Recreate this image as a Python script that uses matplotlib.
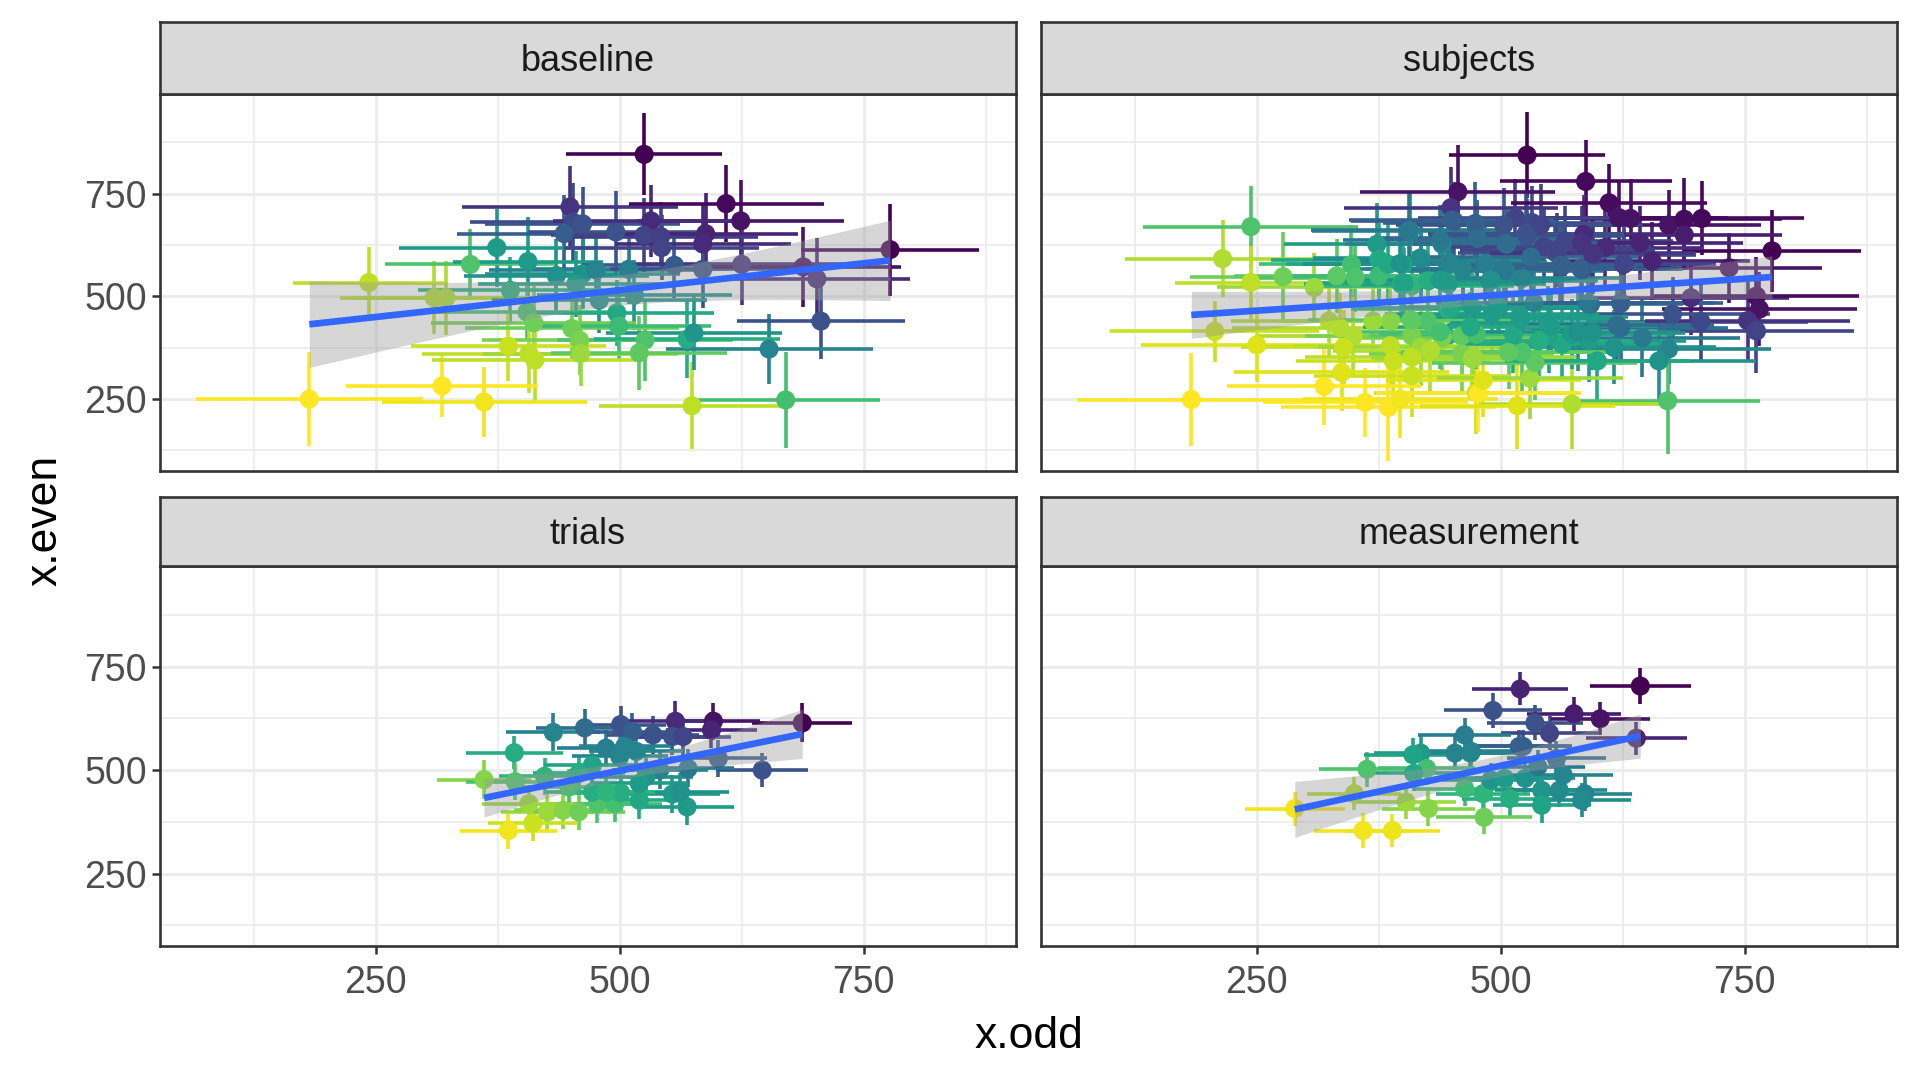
import numpy as np
import matplotlib
matplotlib.use("Agg")
import matplotlib.pyplot as plt

plt.rcParams['font.family'] = ['Liberation Sans', 'DejaVu Sans']

# ---- data (x.odd, x.even, half-widths, colour level) ----
# colour level: 0 = dark purple, 1 = yellow (viridis)
base_x = [182, 243, 310, 322, 318, 361, 347, 374, 406, 435, 449, 452, 462, 443, 388,
          405, 412, 386, 407, 413, 451, 459, 460, 462, 455,
          525, 609, 624, 532, 496, 525, 542, 588, 585, 543, 556, 476, 509, 625, 585,
          777, 688, 702, 706, 653, 670, 574, 497, 499, 526, 520, 569, 576, 479, 515]
base_y = [250, 534, 497, 497, 282, 243, 578, 619, 585, 551, 718, 681, 677, 653, 515,
          462, 436, 379, 361, 345, 422, 393, 361, 555, 531,
          846, 726, 684, 684, 657, 649, 646, 653, 628, 619, 576, 564, 566, 578, 566,
          614, 572, 543, 440, 372, 248, 234, 460, 428, 394, 363, 396, 411, 491, 503]
base_xe = [116, 78, 97, 95, 98, 105, 87, 100, 77, 95, 111, 105, 100, 110, 95,
           100, 105, 100, 110, 105, 110, 100, 100, 100, 100,
           80, 100, 106, 100, 90, 95, 100, 95, 90, 100, 95, 110, 100, 110, 95,
           91, 100, 95, 86, 106, 97, 95, 100, 95, 90, 90, 95, 90, 110, 100]
base_ye = [115, 86, 89, 90, 76, 85, 87, 95, 109, 90, 100, 95, 90, 95, 80,
           70, 90, 85, 95, 100, 75, 85, 80, 85, 80,
           100, 93, 100, 87, 100, 90, 85, 100, 95, 80, 80, 90, 85, 100, 95,
           112, 97, 100, 93, 86, 117, 106, 80, 85, 100, 90, 95, 90, 80, 85]
base_c = [1.0, 0.9, 0.88, 0.88, 1.0, 0.98, 0.72, 0.55, 0.55, 0.5, 0.15, 0.22, 0.25, 0.3, 0.62,
          0.7, 0.78, 0.92, 0.9, 0.9, 0.78, 0.8, 0.85, 0.5, 0.55,
          0.0, 0.02, 0.05, 0.12, 0.25, 0.2, 0.18, 0.1, 0.12, 0.2, 0.28, 0.45, 0.42, 0.15, 0.25,
          0.0, 0.05, 0.12, 0.25, 0.45, 0.7, 0.9, 0.6, 0.68, 0.72, 0.75, 0.62, 0.52, 0.5, 0.5]

subj_x = [183, 244, 215, 244, 277, 207, 250, 319, 309, 332, 347, 351, 373, 375, 375,
          407, 385, 400, 418, 440, 447, 461, 456, 449, 452, 476, 398, 409, 426, 446,
          471, 447, 425, 409, 387, 369, 324, 335, 349, 339, 387, 409, 440, 460, 418,
          428, 409, 390, 460, 471, 337, 409, 361, 385, 397, 475,
          527, 587, 611, 621, 633, 672, 688, 706, 688, 778, 515, 532, 541, 527, 566,
          585, 583, 607, 643, 655, 626, 595, 556, 563, 583, 506, 484, 505, 489, 534,
          592, 623, 676, 705, 695, 734, 762, 765, 753, 762, 623, 645, 672, 662, 671,
          573, 517, 477, 482, 530, 535, 522, 508, 563, 599, 616, 590, 594, 573, 549,
          551, 539, 513, 520, 498, 491, 475, 472,
          406, 450, 474, 503, 438, 476, 505, 526, 544, 558, 594, 626, 397, 418, 447,
          461, 485, 503, 531, 561, 582, 401, 438, 490, 522, 408, 449, 497, 520, 548,
          589, 623, 619, 469, 438, 579]
subj_y = [249, 670, 592, 534, 548, 415, 382, 281, 522, 550, 578, 546, 627, 590, 550,
          659, 578, 578, 594, 627, 582, 566, 755, 716, 684, 643, 530, 526, 538, 530,
          473, 469, 440, 440, 440, 440, 440, 424, 404, 376, 380, 404, 400, 404, 376,
          368, 352, 343, 360, 348, 315, 307, 242, 230, 250, 266,
          844, 780, 728, 692, 690, 674, 688, 690, 650, 611, 692, 680, 674, 647, 635,
          651, 631, 619, 631, 586, 578, 601, 607, 574, 566, 627, 578, 562, 538, 485,
          481, 485, 457, 439, 497, 570, 501, 469, 441, 416, 424, 400, 372, 343, 246,
          238, 234, 264, 296, 301, 339, 364, 364, 384, 343, 376, 392, 412, 408, 408,
          428, 392, 408, 445, 473, 457, 408, 352,
          661, 686, 678, 674, 637, 641, 629, 653, 621, 613, 605, 580, 580, 592, 584,
          568, 580, 568, 596, 576, 568, 532, 540, 540, 544, 443, 471, 475, 451, 435,
          483, 483, 430, 426, 414, 414]
subj_xe = [117, 110, 100, 78, 95, 107, 119, 99, 100, 105, 95, 110, 95, 110, 100,
           100, 105, 95, 110, 100, 95, 100, 100, 110, 105, 100, 100, 105, 95, 100,
           110, 100, 105, 100, 110, 95, 100, 110, 100, 105, 100, 110, 100, 95, 105,
           100, 110, 100, 95, 100, 110, 100, 105, 110, 100, 105,
           80, 88, 100, 105, 100, 95, 100, 105, 100, 91, 100, 95, 105, 100, 110,
           100, 95, 100, 105, 100, 95, 105, 100, 110, 100, 95, 105, 100, 110, 100,
           95, 105, 100, 110, 100, 95, 105, 100, 105, 100, 110, 100, 105, 100, 95,
           95, 100, 105, 100, 95, 105, 100, 110, 100, 95, 105, 100, 95, 105, 100,
           110, 100, 95, 105, 100, 110, 100, 105,
           100, 105, 95, 110, 100, 105, 95, 100, 110, 100, 105, 95, 100, 110, 100,
           105, 95, 100, 110, 100, 105, 95, 100, 110, 100, 105, 95, 100, 110, 100,
           105, 95, 100, 110, 100, 105]
subj_ye = [114, 99, 94, 90, 109, 75, 90, 95, 85, 90, 95, 85, 100, 90, 80,
           95, 100, 85, 90, 95, 85, 90, 115, 100, 95, 90, 90, 85, 95, 90,
           85, 90, 95, 85, 90, 100, 90, 85, 95, 90, 100, 90, 85, 90, 95,
           100, 90, 85, 95, 90, 95, 100, 85, 130, 95, 100,
           104, 100, 95, 90, 95, 85, 100, 90, 85, 100, 95, 90, 100, 90, 85,
           95, 90, 100, 90, 95, 85, 95, 90, 95, 85, 90, 95, 90, 85, 95,
           90, 100, 90, 95, 90, 85, 95, 90, 95, 103, 90, 95, 85, 100, 130,
           109, 105, 95, 90, 100, 90, 95, 90, 85, 95, 90, 100, 90, 85, 95,
           90, 85, 95, 90, 100, 90, 85, 95,
           95, 90, 100, 90, 85, 95, 90, 100, 95, 90, 85, 95, 90, 100, 90,
           95, 85, 90, 100, 95, 90, 85, 95, 90, 100, 95, 90, 85, 95, 90,
           100, 90, 95, 85, 90, 95]
subj_c = [1.0, 0.72, 0.88, 0.9, 0.78, 0.92, 0.95, 1.0, 0.85, 0.75, 0.7, 0.72, 0.55, 0.6, 0.68,
          0.45, 0.6, 0.58, 0.5, 0.45, 0.48, 0.5, 0.05, 0.15, 0.25, 0.3, 0.62, 0.65, 0.62, 0.55,
          0.55, 0.65, 0.72, 0.75, 0.82, 0.85, 0.88, 0.88, 0.88, 0.92, 0.9, 0.8, 0.8, 0.75, 0.85,
          0.88, 0.9, 0.92, 0.8, 0.85, 0.95, 0.92, 1.0, 1.0, 0.98, 0.92,
          0.0, 0.02, 0.03, 0.05, 0.05, 0.05, 0.03, 0.02, 0.08, 0.0, 0.2, 0.22, 0.2, 0.25, 0.2,
          0.12, 0.15, 0.12, 0.1, 0.1, 0.15, 0.2, 0.25, 0.3, 0.25, 0.35, 0.4, 0.42, 0.45, 0.45,
          0.35, 0.3, 0.25, 0.22, 0.12, 0.05, 0.03, 0.05, 0.15, 0.2, 0.35, 0.4, 0.45, 0.5, 0.72,
          0.88, 0.95, 1.0, 0.95, 0.85, 0.75, 0.72, 0.75, 0.6, 0.6, 0.5, 0.55, 0.5, 0.55, 0.58,
          0.55, 0.62, 0.6, 0.55, 0.5, 0.55, 0.7, 0.85,
          0.4, 0.3, 0.3, 0.25, 0.4, 0.35, 0.35, 0.25, 0.2, 0.2, 0.15, 0.2, 0.5, 0.48, 0.45,
          0.45, 0.42, 0.4, 0.35, 0.3, 0.3, 0.58, 0.55, 0.5, 0.45, 0.75, 0.6, 0.55, 0.55, 0.55,
          0.4, 0.3, 0.35, 0.6, 0.7, 0.5]

trial_x = [687, 646, 596, 557, 501, 464, 432, 392, 361, 393, 423, 386, 411, 426, 442,
           458, 477, 495, 501, 520, 554, 569, 562, 534, 554, 513, 486, 505, 500, 517,
           601, 570, 541, 527, 472, 458, 448, 472, 486, 594, 565, 407, 520]
trial_y = [614, 500, 618, 618, 610, 602, 591, 542, 477, 472, 485, 354, 372, 399, 403,
           399, 419, 419, 445, 427, 442, 411, 447, 585, 581, 593, 553, 557, 533, 545,
           528, 504, 500, 484, 512, 492, 459, 447, 447, 597, 581, 419, 468]
trial_xe = [51, 47, 48, 50, 46, 50, 48, 50, 48, 50, 47, 50, 46, 48, 50,
            47, 49, 48, 50, 47, 49, 48, 50, 47, 49, 48, 50, 47, 49, 48,
            50, 47, 49, 48, 50, 47, 49, 48, 50, 47, 49, 48, 50]
trial_ye = [47, 42, 45, 48, 44, 45, 46, 40, 47, 44, 45, 45, 44, 46, 45,
            44, 46, 45, 44, 46, 45, 44, 46, 45, 44, 46, 45, 44, 46, 45,
            44, 46, 45, 44, 46, 45, 44, 46, 45, 44, 46, 45, 44]
trial_c = [0.0, 0.25, 0.05, 0.12, 0.25, 0.35, 0.45, 0.62, 0.82, 0.72, 0.65, 0.98, 0.92, 0.85, 0.82,
           0.78, 0.72, 0.7, 0.62, 0.6, 0.55, 0.55, 0.5, 0.25, 0.25, 0.3, 0.42, 0.45, 0.45, 0.45,
           0.3, 0.4, 0.45, 0.5, 0.58, 0.62, 0.7, 0.62, 0.65, 0.1, 0.2, 0.85, 0.55]

meas_x = [643, 520, 492, 575, 602, 535, 550, 639, 463, 523, 470, 453, 418, 410, 363,
          289, 350, 359, 389, 403, 426, 424, 483, 463, 482, 490, 509, 525, 542, 542,
          560, 564, 586, 583, 504, 557, 538, 469, 411, 519]
meas_y = [703, 696, 644, 636, 624, 614, 589, 577, 585, 557, 545, 541, 541, 537, 502,
          407, 443, 354, 354, 423, 407, 504, 386, 455, 443, 476, 431, 480, 451, 415,
          451, 488, 443, 427, 480, 528, 508, 541, 492, 557]
meas_xe = [52, 49, 50, 48, 51, 49, 50, 52, 48, 50, 49, 51, 48, 50, 49,
           51, 48, 50, 49, 51, 48, 50, 49, 51, 48, 50, 49, 51, 48, 50,
           49, 51, 48, 50, 49, 51, 48, 50, 49, 51]
meas_ye = [43, 40, 42, 41, 40, 42, 41, 40, 42, 41, 40, 42, 41, 40, 42,
           41, 40, 42, 41, 40, 42, 41, 40, 42, 41, 40, 42, 41, 40, 42,
           41, 40, 42, 41, 40, 42, 41, 40, 42, 41]
meas_c = [0.0, 0.1, 0.25, 0.08, 0.05, 0.25, 0.2, 0.1, 0.42, 0.3, 0.45, 0.45, 0.55, 0.58, 0.72,
          0.98, 0.88, 0.98, 0.97, 0.85, 0.82, 0.7, 0.78, 0.68, 0.65, 0.52, 0.62, 0.5, 0.52, 0.58,
          0.48, 0.45, 0.45, 0.48, 0.55, 0.35, 0.4, 0.45, 0.6, 0.3]

panels = ["baseline", "subjects", "trials", "measurement"]
panel_data = {
    "baseline": (base_x, base_y, base_xe, base_ye, base_c),
    "subjects": (subj_x, subj_y, subj_xe, subj_ye, subj_c),
    "trials": (trial_x, trial_y, trial_xe, trial_ye, trial_c),
    "measurement": (meas_x, meas_y, meas_xe, meas_ye, meas_c),
}

W, H = 1920, 1080
fig = plt.figure(figsize=(19.2, 10.8), dpi=100)
cmap = plt.get_cmap("viridis")

# panel boxes in pixels: columns (left, right), rows (top, bottom, strip top)
cols = [(160, 1016), (1041, 1897)]
rows = [(94, 471, 22), (566, 946, 497)]

def lm_band(x, y, n=80):
    x = np.asarray(x, float); y = np.asarray(y, float)
    b, a = np.polyfit(x, y, 1)
    xs = np.linspace(x.min(), x.max(), n)
    fit = a + b * xs
    res = y - (a + b * x)
    df = len(x) - 2
    s = np.sqrt(np.sum(res**2) / df)
    se = s * np.sqrt(1.0 / len(x) + (xs - x.mean())**2 / np.sum((x - x.mean())**2))
    z = 1.959964
    t = z + (z**3 + z) / (4 * df)  # t quantile approximation
    return xs, fit, fit - t * se, fit + t * se

for i, name in enumerate(panels):
    r, c = divmod(i, 2)
    x0, x1 = cols[c]
    top, bot, stop = rows[r]
    ax = fig.add_axes([x0 / W, 1 - bot / H, (x1 - x0) / W, (bot - top) / H])
    sax = fig.add_axes([x0 / W, 1 - top / H, (x1 - x0) / W, (top - stop) / H])

    xo, ye_, xe, yerr, shade = panel_data[name]
    xo = np.array(xo, float); yv = np.array(ye_, float)
    xe = np.array(xe, float); yerr = np.array(yerr, float)
    cols_rgba = cmap(np.array(shade))

    ax.vlines(xo, yv - yerr, yv + yerr, colors=cols_rgba, linewidth=2.6, zorder=2)
    ax.hlines(yv, xo - xe, xo + xe, colors=cols_rgba, linewidth=2.6, zorder=2)
    ax.scatter(xo, yv, c=shade, cmap=cmap, vmin=0, vmax=1, s=190, linewidths=0, zorder=3)

    xs, fit, lo, hi = lm_band(xo, yv)
    ax.fill_between(xs, lo, hi, color="#999999", alpha=0.4, linewidth=0, zorder=4)
    ax.plot(xs, fit, color="#3366FF", linewidth=4.8, zorder=5, solid_capstyle="butt")

    ax.set_xlim(29, 906)
    ax.set_ylim(75, 993)
    ax.set_xticks([250, 500, 750])
    ax.set_yticks([250, 500, 750])
    ax.set_xticks([125, 375, 625, 875], minor=True)
    ax.set_yticks([125, 375, 625, 875], minor=True)
    ax.grid(which="major", color="#EBEBEB", linewidth=2.0, zorder=0)
    ax.grid(which="minor", color="#EBEBEB", linewidth=1.2, zorder=0)
    ax.set_axisbelow(True)
    for sp in ax.spines.values():
        sp.set_color("#333333"); sp.set_linewidth(1.9)
    ax.tick_params(which="minor", length=0)
    ax.tick_params(which="major", length=5.5, width=1.8, color="#333333",
                   labelsize=27, labelcolor="#4D4D4D", pad=4)
    ax.tick_params(axis="x", which="major", pad=8)
    if r == 0:
        ax.tick_params(axis="x", which="major", length=0, labelbottom=False)
    if c == 1:
        ax.tick_params(axis="y", which="major", length=0, labelleft=False)

    sax.set_facecolor("#D9D9D9")
    sax.set_xticks([]); sax.set_yticks([])
    for sp in sax.spines.values():
        sp.set_color("#333333"); sp.set_linewidth(1.9)
    sax.text(0.5, 0.45, name, ha="center", va="center", fontsize=26,
             color="#1A1A1A", transform=sax.transAxes)

fig.text(1028.5 / W, 1 - 1036 / H, "x.odd", ha="center", va="center", fontsize=32, color="black")
fig.text(45 / W, 1 - 520 / H, "x.even", ha="center", va="center", rotation=90,
         fontsize=32, color="black")

fig.savefig("out.png", dpi=100)
